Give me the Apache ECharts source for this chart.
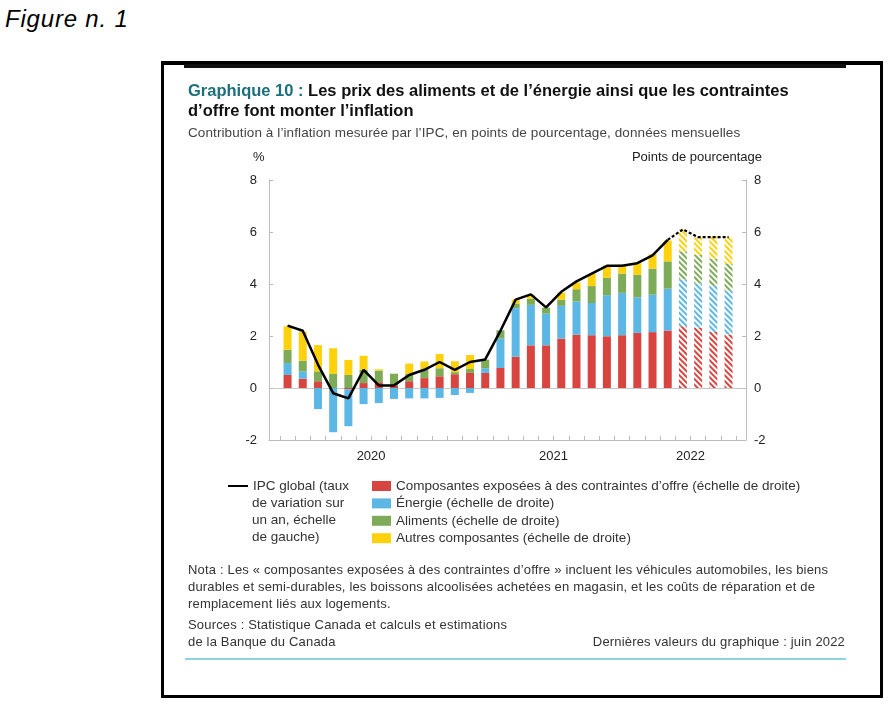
<!DOCTYPE html>
<html><head><meta charset="utf-8">
<script src="https://cdn.jsdelivr.net/npm/echarts@6/dist/echarts.min.js"></script>
<style>
body{margin:0;background:#fff;font-family:"Liberation Sans",Arial,sans-serif;}
#page{position:relative;width:892px;height:707px;overflow:hidden;background:#fff;}
#chart{position:absolute;left:0;top:0;width:892px;height:707px;}
.t{position:absolute;white-space:nowrap;color:#333;font-size:13px;letter-spacing:0.17px;line-height:17px;}
</style></head><body>
<div id="page">
<div class="t" style="left:5px;top:4px;font-size:24px;line-height:29px;letter-spacing:0.8px;font-style:italic;color:#000;">Figure n. 1</div>
<div style="position:absolute;left:161px;top:61px;width:722px;height:637px;box-sizing:border-box;border:3px solid #000;border-top-width:4px;"></div>
<div style="position:absolute;left:184px;top:64px;width:662px;height:4px;background:#111;"></div>
<div style="position:absolute;left:185px;top:658px;width:661px;height:2px;background:#8fd5dd;"></div>
<div id="chart"></div>
<div class="t" style="left:188px;top:80px;font-size:16.5px;line-height:20px;letter-spacing:0;font-weight:bold;color:#111;"><span style="color:#1d6f7b;">Graphique 10 :</span> Les prix des aliments et de l’énergie ainsi que les contraintes<br>d’offre font monter l’inflation</div>
<div class="t" style="left:188px;top:124px;color:#444;font-size:13.5px;letter-spacing:0.1px;">Contribution à l’inflation mesurée par l’IPC, en points de pourcentage, données mensuelles</div>
<div class="t" style="left:188px;top:561px;">Nota : Les « composantes exposées à des contraintes d’offre » incluent les véhicules automobiles, les biens<br>durables et semi-durables, les boissons alcoolisées achetées en magasin, et les coûts de réparation et de<br>remplacement liés aux logements.</div>
<div class="t" style="left:188px;top:616px;">Sources : Statistique Canada et calculs et estimations<br>de la Banque du Canada</div>
<div class="t" style="right:47px;top:633px;">Dernières valeurs du graphique : juin 2022</div>
</div>
<script>
const months = ['2020-01','2020-02','2020-03','2020-04','2020-05','2020-06','2020-07','2020-08','2020-09','2020-10','2020-11','2020-12',
  '2021-01','2021-02','2021-03','2021-04','2021-05','2021-06','2021-07','2021-08','2021-09','2021-10','2021-11','2021-12',
  '2022-01','2022-02','2022-03','2022-04','2022-05','2022-06'];
const yearLabels = ['2020','2021','2022'];
const yearLabelIndex = [5, 17, 26];
const yTicks = [-2, 0, 2, 4, 6, 8];

const supplyConstrained = [0.50,0.36,0.26,0.00,-0.05,0.19,0.22,0.10,0.26,0.38,0.45,0.53,0.58,0.58,0.77,1.20,1.64,1.64,1.90,2.05,2.03,1.99,2.03,2.12,2.15,2.21,2.38,2.32,2.16,2.06];
const energy = [0.46,0.28,-0.81,-1.70,-1.42,-0.62,-0.58,-0.42,-0.40,-0.40,-0.38,-0.27,-0.19,0.18,1.13,1.87,1.56,1.22,1.26,1.28,1.24,1.58,1.63,1.37,1.44,1.61,1.79,1.70,1.77,1.68];
const food = [0.51,0.41,0.38,0.54,0.50,0.51,0.45,0.45,0.28,0.33,0.31,0.08,0.15,0.33,0.32,0.18,0.23,0.23,0.24,0.47,0.65,0.67,0.74,0.86,1.00,1.05,1.09,1.10,1.05,1.03];
const otherComponents = [0.90,1.12,1.01,0.99,0.58,0.54,0.05,0.00,0.40,0.31,0.55,0.42,0.54,0.00,0.00,0.15,0.15,0.00,0.27,0.26,0.47,0.46,0.35,0.46,0.56,0.80,0.84,0.70,0.84,1.05];
const cpiTotal = [2.4,2.2,0.9,-0.2,-0.4,0.7,0.1,0.1,0.5,0.7,1.0,0.7,1.0,1.1,2.2,3.4,3.6,3.1,3.7,4.1,4.4,4.7,4.7,4.8,5.1,5.7,6.1,5.8,5.8,5.8];
const projectionStart = 25;   // last actual CPI point; dashed afterwards
const hatchFrom = 26;         // estimated bars

const cpiName = 'IPC global (taux de variation sur un an, échelle de gauche)';
const barDefs = [
  {name:'Composantes exposées à des contraintes d’offre (échelle de droite)', data:supplyConstrained, color:'#d8443f'},
  {name:'Énergie (échelle de droite)', data:energy, color:'#5db7e4'},
  {name:'Aliments (échelle de droite)', data:food, color:'#7dab57'},
  {name:'Autres composantes (échelle de droite)', data:otherComponents, color:'#fdd10c'}
];

const chart = echarts.init(document.getElementById('chart'), null, {renderer:'canvas'});
const axisGray = '#bcbcbc';
const T = 'rgba(0,0,0,0)';
const FONT = '"Liberation Sans", Arial, sans-serif';

const barSeries = barDefs.map(d => ({
  type:'bar', name:d.name, stack:'contrib', xAxisIndex:1, yAxisIndex:2, barWidth:8,
  itemStyle:{color:d.color},
  data: d.data.map((v,i) => i >= hatchFrom ? {
      value:v,
      itemStyle:{color:'#fff', decal:{symbol:'rect', symbolSize:1, color:d.color, backgroundColor:'#fff',
        dashArrayX:[1,0], dashArrayY:[2,2], rotation:Math.PI/4}}
    } : v)
}));

const option = {
  animation:false,
  textStyle:{fontFamily:FONT},
  grid:[
    {left:269, right:146, top:180, bottom:267},
    {left:279.95, width:456.2, top:180, bottom:267}
  ],
  xAxis:[
    {type:'value', gridIndex:0, min:0, max:1,
     axisLine:{show:true, onZero:false, lineStyle:{color:axisGray}}, axisTick:{show:false}, axisLabel:{show:false}, splitLine:{show:false}},
    {type:'category', gridIndex:1, data:months,
     axisLine:{show:false, onZero:false},
     axisTick:{show:true, inside:true, length:4, interval:0, lineStyle:{color:axisGray}},
     axisLabel:{interval:(i)=>yearLabelIndex.includes(i), formatter:(v,i)=>yearLabels[yearLabelIndex.indexOf(i)] || '',
       padding:[0,0,0,15], margin:10, fontSize:13, color:'#222'},
     splitLine:{show:false}}
  ],
  yAxis:[
    {type:'value', gridIndex:0, position:'left', min:yTicks[0], max:yTicks[yTicks.length-1], interval:2,
     axisLine:{show:true, onZero:false, lineStyle:{color:axisGray}},
     axisTick:{show:true, inside:true, length:4, lineStyle:{color:axisGray}},
     axisLabel:{margin:12, fontSize:13, color:'#222'},
     splitLine:{show:true, showMinLine:true, showMaxLine:true, lineStyle:{color:[T,'#c8c8c8',T,T,T,T], width:1}}},
    {type:'value', gridIndex:0, position:'right', min:yTicks[0], max:yTicks[yTicks.length-1], interval:2,
     axisLine:{show:true, onZero:false, lineStyle:{color:axisGray}},
     axisTick:{show:true, inside:true, length:4, lineStyle:{color:axisGray}},
     axisLabel:{margin:8, fontSize:13, color:'#222'},
     splitLine:{show:false}},
    {type:'value', gridIndex:1, min:yTicks[0], max:yTicks[yTicks.length-1], show:false}
  ],
  legend:[
    {data:barDefs.map(d=>d.name), left:367, top:474, orient:'vertical', icon:'rect',
     itemWidth:19, itemHeight:10, itemGap:3.4, selectedMode:false,
     textStyle:{fontSize:13.5, color:'#333'}},
    {data:[{name:cpiName, icon:'rect', itemStyle:{color:'#000'}}], left:223, top:474, orient:'vertical',
     itemWidth:20, itemHeight:2, selectedMode:false, formatter:()=> 'IPC global (taux',
     textStyle:{fontSize:13.5, color:'#333'}}
  ],
  graphic:[
    {type:'text', left:252, top:494.5, style:{text:'de variation sur\nun an, échelle\nde gauche)', font:'13.5px ' + FONT, fill:'#333', lineHeight:17.3}},
    {type:'text', left:253, top:151, style:{text:'%', font:'13px ' + FONT, fill:'#222'}},
    {type:'text', right:130, top:151, style:{text:'Points de pourcentage', font:'13px ' + FONT, fill:'#222'}}
  ],
  series:[
    ...barSeries,
    {type:'line', name:cpiName, xAxisIndex:1, yAxisIndex:2, symbol:'none', z:5,
     lineStyle:{color:'#000', width:2.5}, itemStyle:{color:'#000'},
     data: cpiTotal.map((v,i)=> i <= projectionStart ? v : '-')},
    {type:'line', name:cpiName, xAxisIndex:1, yAxisIndex:2, symbol:'none', z:5,
     lineStyle:{color:'#000', width:2.2, type:[3,2]}, itemStyle:{color:'#000'},
     data: cpiTotal.map((v,i)=> i >= projectionStart ? v : '-')}
  ]
};
chart.setOption(option);
</script>
</body></html>
